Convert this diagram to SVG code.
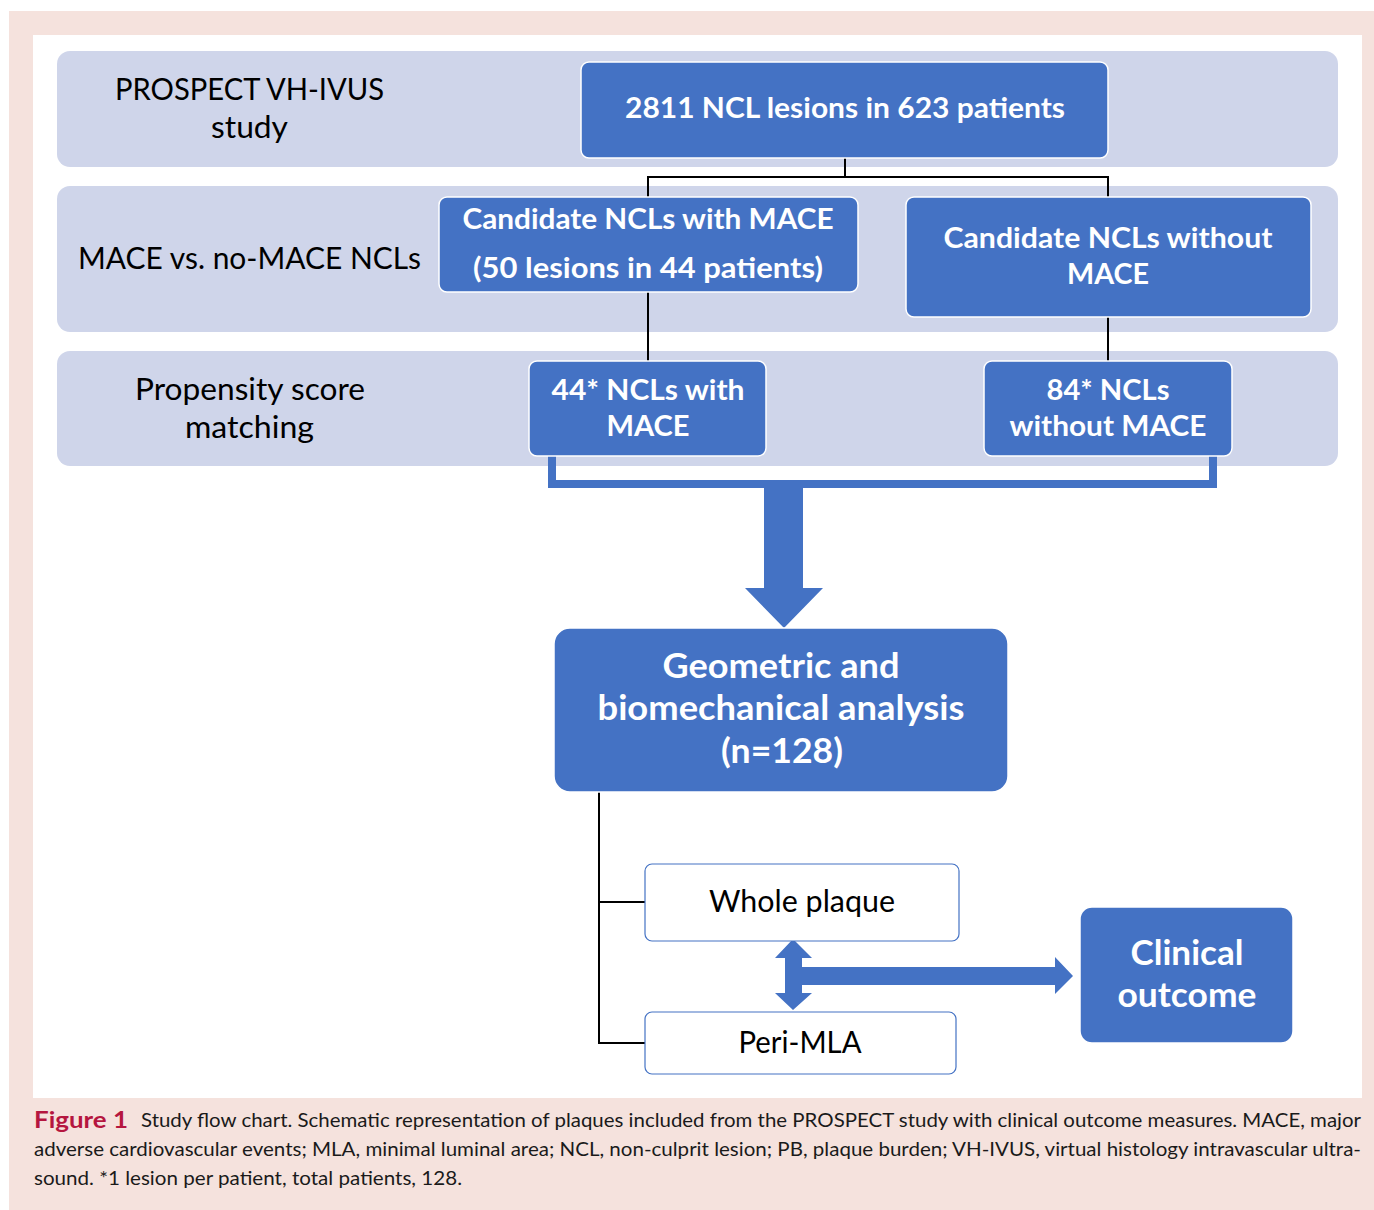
<svg xmlns="http://www.w3.org/2000/svg" width="1374" height="1210" viewBox="0 0 1374 1210">
<style>
.band{fill:#CFD5EA}
.bx{fill:#4472C4;stroke:#FFFFFF;stroke-width:1.5}
.wb{fill:#FFFFFF;stroke:#4472C4;stroke-width:1.2}
.lbl{font-family:Lato,"Liberation Sans",sans-serif;font-size:30px;fill:#000000}
.bt{font-family:Lato,"Liberation Sans",sans-serif;font-weight:bold;fill:#FFFFFF;text-anchor:middle}
.wt{font-family:Lato,"Liberation Sans",sans-serif;font-size:30px;fill:#000000;text-anchor:middle}
.ln{fill:none;stroke:#000000;stroke-width:2}
.cap{font-family:Lato,"Liberation Sans",sans-serif;font-size:19px;fill:#1a1a1a}
</style>
<rect x="0" y="0" width="1374" height="1210" fill="#FFFFFF"/>
<rect x="9" y="11" width="1365" height="1199" fill="#F5E2DD"/>
<rect x="33" y="35" width="1329" height="1063" fill="#FFFFFF"/>

<g id="bands">
<rect class="band" x="57" y="51" width="1281" height="116" rx="13"/>
<rect class="band" x="57" y="186" width="1281" height="146" rx="13"/>
<rect class="band" x="57" y="351" width="1281" height="115" rx="13"/>
</g>

<g id="labels">
<text class="lbl" x="115" y="100" textLength="269" lengthAdjust="spacingAndGlyphs">PROSPECT VH-IVUS</text>
<text class="lbl" x="211" y="138" textLength="77" lengthAdjust="spacingAndGlyphs">study</text>
<text class="lbl" x="78" y="269" textLength="343" lengthAdjust="spacingAndGlyphs">MACE vs. no-MACE NCLs</text>
<text class="lbl" x="135" y="400" textLength="230" lengthAdjust="spacingAndGlyphs">Propensity score</text>
<text class="lbl" x="185" y="438" textLength="129" lengthAdjust="spacingAndGlyphs">matching</text>
</g>

<g id="connectors">
<path class="ln" d="M845,158 V177 H648 V197 M845,177 H1108 V197"/>
<path class="ln" d="M648,292 V361"/>
<path class="ln" d="M1108,317 V361"/>
<path d="M552,456 V484 H1213 V456" fill="none" stroke="#4472C4" stroke-width="8"/>
<path d="M764,488 H803 V588 H823 L784,628 L745,588 H764 Z" fill="#4472C4"/>
<path class="ln" d="M599,792 V1043 H645 M599,902 H645"/>
<path d="M793,939 L812,958 H802 V967 H1055 V957 L1073,976 L1055,994 V985 H802 V993 H812 L793,1010 L775,993 H785 V958 H775 Z" fill="#4472C4"/>
</g>

<g id="n-top">
<rect class="bx" x="581" y="62" width="527" height="96" rx="8"/>
<text class="bt" x="845" y="118" font-size="29" textLength="440" lengthAdjust="spacingAndGlyphs">2811 NCL lesions in 623 patients</text>
</g>

<g id="n-cand-mace">
<rect class="bx" x="439" y="197" width="419" height="95" rx="8"/>
<text class="bt" x="648" y="229" font-size="29" textLength="371" lengthAdjust="spacingAndGlyphs">Candidate NCLs with MACE</text>
<text class="bt" x="648" y="278" font-size="29" textLength="350" lengthAdjust="spacingAndGlyphs">(50 lesions in 44 patients)</text>
</g>

<g id="n-cand-nomace">
<rect class="bx" x="906" y="197" width="405" height="120" rx="8"/>
<text class="bt" x="1108" y="248" font-size="29" textLength="329" lengthAdjust="spacingAndGlyphs">Candidate NCLs without</text>
<text class="bt" x="1108" y="284" font-size="29" textLength="82" lengthAdjust="spacingAndGlyphs">MACE</text>
</g>

<g id="n-44">
<rect class="bx" x="529" y="361" width="237" height="95" rx="8"/>
<text class="bt" x="648" y="400" font-size="29" textLength="193" lengthAdjust="spacingAndGlyphs">44* NCLs with</text>
<text class="bt" x="648" y="436" font-size="29" textLength="83" lengthAdjust="spacingAndGlyphs">MACE</text>
</g>

<g id="n-84">
<rect class="bx" x="984" y="361" width="248" height="95" rx="8"/>
<text class="bt" x="1108" y="400" font-size="29" textLength="123" lengthAdjust="spacingAndGlyphs">84* NCLs</text>
<text class="bt" x="1108" y="436" font-size="29" textLength="197" lengthAdjust="spacingAndGlyphs">without MACE</text>
</g>

<g id="n-geo">
<rect class="bx" x="554" y="628" width="454" height="164" rx="16"/>
<text class="bt" x="781" y="678" font-size="35" textLength="237" lengthAdjust="spacingAndGlyphs">Geometric and</text>
<text class="bt" x="781" y="720" font-size="35" textLength="367" lengthAdjust="spacingAndGlyphs">biomechanical analysis</text>
<text class="bt" x="782" y="763" font-size="35" textLength="122" lengthAdjust="spacingAndGlyphs">(n=128)</text>
</g>

<g id="n-whole">
<rect class="wb" x="645" y="864" width="314" height="77" rx="7"/>
<text class="wt" x="802" y="912" textLength="186" lengthAdjust="spacingAndGlyphs">Whole plaque</text>
</g>

<g id="n-peri">
<rect class="wb" x="645" y="1012" width="311" height="62" rx="7"/>
<text class="wt" x="800" y="1053" textLength="123" lengthAdjust="spacingAndGlyphs">Peri-MLA</text>
</g>

<g id="n-clinical">
<rect class="bx" x="1080" y="907" width="213" height="136" rx="12"/>
<text class="bt" x="1187" y="965" font-size="34" textLength="113" lengthAdjust="spacingAndGlyphs">Clinical</text>
<text class="bt" x="1187" y="1007" font-size="34" textLength="139" lengthAdjust="spacingAndGlyphs">outcome</text>
</g>

<g id="caption">
<text x="34" y="1128" font-family="Lato,'Liberation Sans',sans-serif" font-weight="bold" fill="#B5163F" font-size="23" textLength="94" lengthAdjust="spacingAndGlyphs">Figure 1</text>
<text class="cap" x="141" y="1127" textLength="1220" lengthAdjust="spacingAndGlyphs">Study flow chart. Schematic representation of plaques included from the PROSPECT study with clinical outcome measures. MACE, major</text>
<text class="cap" x="34" y="1156" textLength="1327" lengthAdjust="spacingAndGlyphs">adverse cardiovascular events; MLA, minimal luminal area; NCL, non-culprit lesion; PB, plaque burden; VH-IVUS, virtual histology intravascular ultra-</text>
<text class="cap" x="34" y="1185" textLength="428" lengthAdjust="spacingAndGlyphs">sound. *1 lesion per patient, total patients, 128.</text>
</g>
</svg>
